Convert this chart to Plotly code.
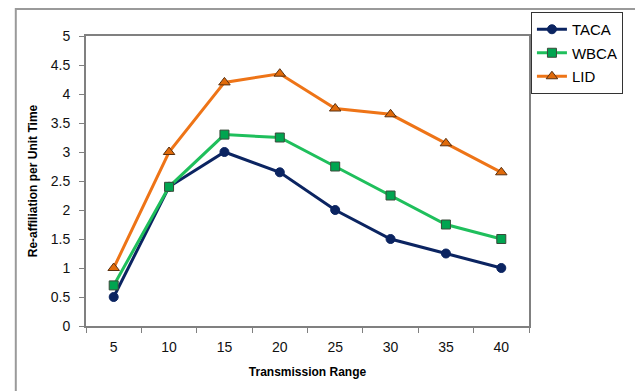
import plotly.graph_objects as go

# Transmission range categories and re-affiliation rates per scheme
ranges = ["5", "10", "15", "20", "25", "30", "35", "40"]
taca = [0.5, 2.4, 3.0, 2.65, 2.0, 1.5, 1.25, 1.0]
wbca = [0.7, 2.4, 3.3, 3.25, 2.75, 2.25, 1.75, 1.5]
lid = [1.0, 3.0, 4.2, 4.35, 3.75, 3.65, 3.15, 2.65]

y_ticks = [0, 0.5, 1, 1.5, 2, 2.5, 3, 3.5, 4, 4.5, 5]
y_tick_text = ["0", "0.5", "1", "1.5", "2", "2.5", "3", "3.5", "4", "4.5", "5"]

W, H = 635, 391
ML, MR, MT, MB = 86, 101, 36, 65
pw, ph = W - ML - MR, H - MT - MB

fig = go.Figure()
fig.add_trace(go.Scatter(
    x=ranges, y=taca, name="TACA", mode="lines+markers", legendgroup="a",
    line=dict(color="#0b2461", width=3),
    marker=dict(symbol="circle", size=9, color="#0b2461",
                line=dict(color="#0b2461", width=1)),
))
fig.add_trace(go.Scatter(
    x=ranges, y=wbca, name="WBCA", mode="lines+markers", legendgroup="b",
    line=dict(color="#1fbf5c", width=3),
    marker=dict(symbol="square", size=9, color="#00a550",
                line=dict(color="#3a4a3a", width=1)),
))
fig.add_trace(go.Scatter(
    x=ranges, y=lid, name="LID", mode="lines+markers", legendgroup="c",
    line=dict(color="#ee7417", width=3),
    marker=dict(symbol="triangle-up", size=10, color="#e06a0a",
                line=dict(color="#5a3010", width=1)),
))

# outer chart-area frame
fig.add_shape(type="rect", xref="paper", yref="paper",
              x0=(15 - ML) / pw, x1=(W + 20 - ML) / pw,
              y0=-0.5, y1=1 + (MT - 9) / ph,
              line=dict(color="#9a9a9a", width=2), fillcolor="rgba(0,0,0,0)",
              layer="below")

tick_font = dict(family="Arial", size=14, color="#111111")
title_font = dict(family="Arial", size=12, color="#000000")

fig.update_layout(
    width=W, height=H,
    margin=dict(l=ML, r=MR, t=MT, b=MB),
    paper_bgcolor="white", plot_bgcolor="white",
    showlegend=True,
    legend=dict(
        x=(629 - ML) / pw, y=1 + (MT - 12) / ph,
        xanchor="right", yanchor="top",
        bordercolor="#333333", borderwidth=1,
        bgcolor="white",
        font=dict(family="Arial", size=15, color="#000000"),
        itemwidth=30, tracegroupgap=1, traceorder="grouped",
    ),
    xaxis=dict(
        type="category", range=[-0.5, 7.5],
        tickson="boundaries", ticks="outside", ticklen=5,
        tickcolor="#808080", showline=True, linecolor="#808080",
        linewidth=2, mirror=True, showgrid=False, zeroline=False,
        tickfont=tick_font, ticklabelstandoff=7,
        title=dict(text="<b>Transmission Range</b>", font=title_font, standoff=14),
    ),
    yaxis=dict(
        range=[0, 5], tickvals=y_ticks, ticktext=y_tick_text,
        ticks="outside", ticklen=5, tickcolor="#808080",
        showline=True, linecolor="#808080", linewidth=2, mirror=True,
        showgrid=False, zeroline=False, tickfont=tick_font,
        ticklabelstandoff=6,
        title=dict(text="<b>Re-affiliation per Unit Time</b>", font=title_font, standoff=11),
    ),
)

fig.write_html("out.html")
